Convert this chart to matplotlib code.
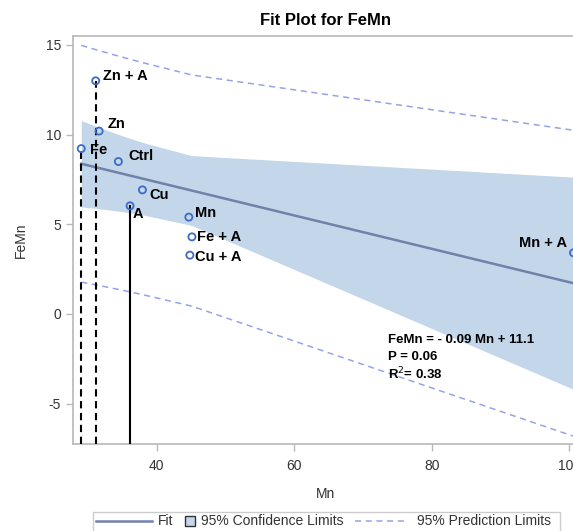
import numpy as np
import matplotlib
matplotlib.use("Agg")
from matplotlib import pyplot as plt
from matplotlib.patches import Rectangle
from matplotlib.lines import Line2D

plt.rcParams['font.family'] = ['Liberation Sans', 'DejaVu Sans']
plt.rcParams['axes.unicode_minus'] = False

# Treatment data
labels = ["Zn + A", "Zn", "Fe", "Ctrl", "Cu", "A", "Mn", "Fe + A", "Cu + A", "Mn + A"]
mn = np.array([31.1, 31.6, 29.0, 34.4, 37.9, 36.1, 44.65, 45.1, 44.8, 100.6])
femn = np.array([13.0, 10.2, 9.22, 8.5, 6.92, 6.03, 5.4, 4.3, 3.28, 3.41])

# label offsets in points
offsets = {
    "Zn + A": (5, 3.6), "Zn": (6, 5), "Fe": (6, -1), "Ctrl": (7, 4),
    "Cu": (5, -4), "A": (1.5, -6), "Mn": (4.5, 3), "Fe + A": (4, 0),
    "Cu + A": (4, -1.5), "Mn + A": (-4.5, 7),
}
# vertical drop lines: (label, style)
drops = [("Fe", "--"), ("Zn + A", "--"), ("A", "-")]

p_value = 0.06
t_crit = 2.306  # t(0.975, 8)

# Ordinary least squares fit
n = len(mn)
xbar, ybar = mn.mean(), femn.mean()
sxx = np.sum((mn - xbar) ** 2)
slope = np.sum((mn - xbar) * (femn - ybar)) / sxx
intercept = ybar - slope * xbar
resid = femn - (intercept + slope * mn)
s = np.sqrt(np.sum(resid ** 2) / (n - 2))
r2 = 1 - np.sum(resid ** 2) / np.sum((femn - ybar) ** 2)

xs = np.sort(np.unique(mn))
fit = intercept + slope * xs
se_mean = s * np.sqrt(1 / n + (xs - xbar) ** 2 / sxx)
se_pred = s * np.sqrt(1 + 1 / n + (xs - xbar) ** 2 / sxx)

W, H = 573, 531
fig = plt.figure(figsize=(W / 100, H / 100), dpi=100)
ax = fig.add_axes([73 / W, 1 - 444 / H, (579 - 73) / W, (444 - 36) / H])

band_c = "#c3d6ea"
fit_c = "#6f83aa"
pred_c = "#96a3e6"
mark_c = "#3c6cc8"
spine_c = "#b8b8b8"
text_c = "#333333"
pred_ls = (0, (4, 3))

ax.fill_between(xs, fit - t_crit * se_mean, fit + t_crit * se_mean,
                color=band_c, lw=0, zorder=1)
ax.plot(xs, fit, color=fit_c, lw=1.8, zorder=2)
ax.plot(xs, fit + t_crit * se_pred, color=pred_c, lw=1.1, ls=pred_ls, zorder=2)
ax.plot(xs, fit - t_crit * se_pred, color=pred_c, lw=1.1, ls=pred_ls, zorder=2)

ymin = -7.25
for name, style in drops:
    i = labels.index(name)
    ax.plot([mn[i], mn[i]], [ymin, femn[i]], color="black", lw=1.5,
            ls=(0, (3.5, 2.2)) if style == "--" else "-", zorder=3)

ax.scatter(mn, femn, s=26, facecolors="none", edgecolors=mark_c, lw=1.3, zorder=4,
           clip_on=False)
for name, x, y in zip(labels, mn, femn):
    dx, dy = offsets[name]
    ax.annotate(name, (x, y), xytext=(dx, dy), textcoords="offset points",
                fontsize=10.5, fontweight="bold", va="center",
                ha="right" if dx < 0 else "left", zorder=5)

eq = "FeMn = - %.2f Mn + %.1f" % (abs(slope), intercept)
ax.text(73.6, -1.45, eq, fontsize=9.5, fontweight="bold", va="center")
ax.text(73.6, -2.4, "P = %.2f" % p_value, fontsize=9.5, fontweight="bold", va="center")
ax.text(73.6, -3.35, "R$^2$= %.2f" % r2, fontsize=9.5, fontweight="bold", va="center")

ax.set_xlim(27.8, 101.4)
ax.set_ylim(ymin, 15.5)
ax.set_xticks([40, 60, 80, 100])
ax.set_yticks([-5, 0, 5, 10, 15])
ax.tick_params(colors=spine_c, labelcolor=text_c, labelsize=10, length=5, width=1)
ax.tick_params(axis="x", pad=6)
for sp in ax.spines.values():
    sp.set_color(spine_c)
    sp.set_linewidth(1.2)
ax.set_xlabel("Mn", fontsize=10, color=text_c, labelpad=10)
ax.set_ylabel("FeMn", fontsize=10, color=text_c, labelpad=13)
ax.set_title("Fit Plot for FeMn", fontsize=12, fontweight="bold", pad=8)


# legend strip along the bottom, laid out in pixel units
def fx(px):
    return px / W


def fy(py):
    return 1 - py / H


ly = 521
fig.add_artist(Rectangle((fx(93), fy(545)), fx(560) - fx(93), fy(512) - fy(545),
                         transform=fig.transFigure, facecolor="white",
                         edgecolor="#cccccc", lw=1))
fig.add_artist(Line2D([fx(96), fx(152)], [fy(ly), fy(ly)], color=fit_c, lw=1.8,
                      transform=fig.transFigure))
fig.text(fx(158), fy(ly), "Fit", fontsize=10, color=text_c, va="center")
fig.add_artist(Rectangle((fx(185), fy(526)), fx(195) - fx(185), fy(516) - fy(526),
                         transform=fig.transFigure, facecolor=band_c,
                         edgecolor="#333333", lw=1))
fig.text(fx(201), fy(ly), "95% Confidence Limits", fontsize=10, color=text_c, va="center")
fig.add_artist(Line2D([fx(355), fx(408)], [fy(ly), fy(ly)], color=pred_c, lw=1.1,
                      ls=pred_ls, transform=fig.transFigure))
fig.text(fx(417), fy(ly), "95% Prediction Limits", fontsize=10, color=text_c, va="center")

fig.savefig("out.png", dpi=100)
